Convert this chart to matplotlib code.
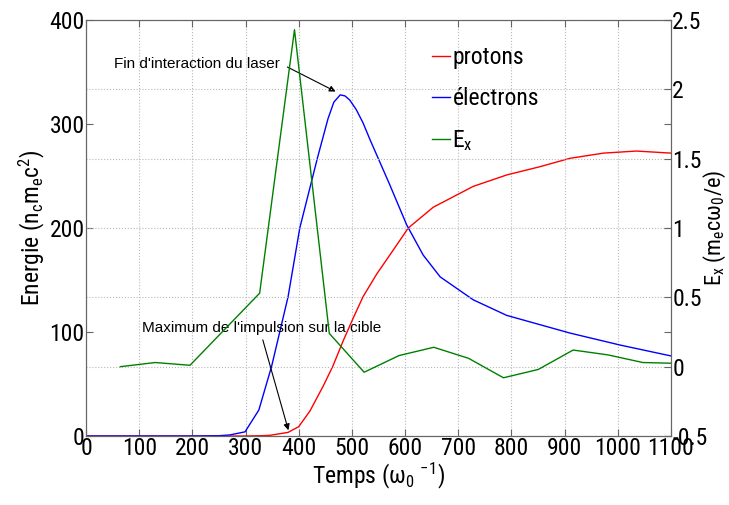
import numpy as np
import matplotlib
matplotlib.use("Agg")
import matplotlib.pyplot as plt

# --- data ---
t_p = [0, 300, 330, 346, 380, 400, 421, 446, 464, 484, 503, 521, 547, 578,
       606, 653, 728, 791, 854, 910, 973, 1035, 1100]
protons = [0, 0, 0.3, 0.7, 3.5, 9, 24, 48, 67, 92, 114, 134, 156, 179,
           200, 220, 240, 251, 259, 267, 272, 274, 272]

t_e = [0, 200, 250, 270, 299, 325, 349, 380, 402, 435, 455, 466, 478, 487,
       496, 508, 521, 534, 570, 603, 634, 666, 728, 791, 854, 910, 1004, 1100]
electrons = [0, 0, 0.3, 1, 4, 25, 67, 134, 200, 267, 305, 321, 328, 327,
             323, 314, 301, 285, 243, 203, 174, 153, 131, 116, 107, 99, 87.5, 77]

t_ex = [64.5, 130, 195.5, 261, 326.5, 392, 457.5, 523, 588.5, 654, 719.5, 785,
        850.5, 916, 981.5, 1047, 1100]
ex = [0.0, 0.03, 0.01, 0.27, 0.53, 2.43, 0.24, -0.04, 0.08, 0.14, 0.06, -0.08,
      -0.02, 0.12, 0.085, 0.03, 0.025]

x_ticks = np.arange(0, 1101, 100)
y1_ticks = np.arange(0, 401, 100)
y2_ticks = np.arange(-0.5, 2.51, 0.5)
y2_labels = ['-0.5', '0', '0.5', '1', '1.5', '2', '2.5']

# --- fonts (condensed, MATLAB-like) ---
narrow = ['Roboto Condensed', 'Liberation Sans', 'DejaVu Sans']
plt.rcParams['font.family'] = narrow
plt.rcParams['mathtext.default'] = 'regular'

fig = plt.figure(figsize=(7.29, 5.05), dpi=100)
ax1 = fig.add_axes([0.118, 0.1366, 0.8024, 0.8238])
ax2 = ax1.twinx()

l1, = ax1.plot(t_p, protons, color='red', lw=1.0)
l2, = ax1.plot(t_e, electrons, color='blue', lw=1.0)
l3, = ax2.plot(t_ex, ex, color='green', lw=1.0)

ax1.set_xlim(0, 1100)
ax1.set_ylim(0, 400)
ax2.set_ylim(-0.5, 2.5)
ax1.set_xticks(x_ticks)
ax1.set_yticks(y1_ticks)
ax2.set_yticks(y2_ticks)
ax2.set_yticklabels(y2_labels)

for ax in (ax1, ax2):
    for s in ax.spines.values():
        s.set_color('0.4')
        s.set_linewidth(0.8)
ax1.tick_params(direction='in', length=5, width=0.8, color='0.4',
                labelsize=17, top=True, right=True, pad=1)
ax2.tick_params(direction='in', length=5, width=0.8, color='0.4',
                labelsize=17, pad=1)

ax1.grid(axis='x', linestyle=':', color='0.72', lw=0.8)
ax2.grid(axis='y', linestyle=':', color='0.72', lw=0.8)
ax1.set_axisbelow(True)

ax1.set_xlabel('Temps (ω$_0$ $^{-1}$)', fontsize=17, labelpad=0)
ax1.set_ylabel('Energie (n$_c$m$_e$c$^2$)', fontsize=17, labelpad=2)
ax2.set_ylabel('E$_x$ (m$_e$cω$_0$/e)', fontsize=16, labelpad=-4)

ax1.legend([l1, l2, l3], ['protons', 'électrons', 'E$_x$'], loc='upper left',
           bbox_to_anchor=(0.572, 0.965), frameon=False, fontsize=17,
           handlelength=0.75, handletextpad=0.1, labelspacing=0.75, borderpad=0)

# annotations
ann = dict(fontsize=11, family=['Liberation Sans', 'DejaVu Sans'], color='black')
ax1.text(52, 358, "Fin d'interaction du laser", ha='left', va='center', **ann)
ax1.annotate('', xy=(474, 330), xytext=(374, 356),
             arrowprops=dict(arrowstyle='-|>', color='black', lw=0.8,
                             mutation_scale=9))
ax1.text(105, 104, "Maximum de l'impulsion sur la cible", ha='left', va='center', **ann)
ax1.annotate('', xy=(382, 3), xytext=(331, 95),
             arrowprops=dict(arrowstyle='-|>', color='black', lw=0.8,
                             mutation_scale=9))

fig.savefig('out.png', dpi=100)
